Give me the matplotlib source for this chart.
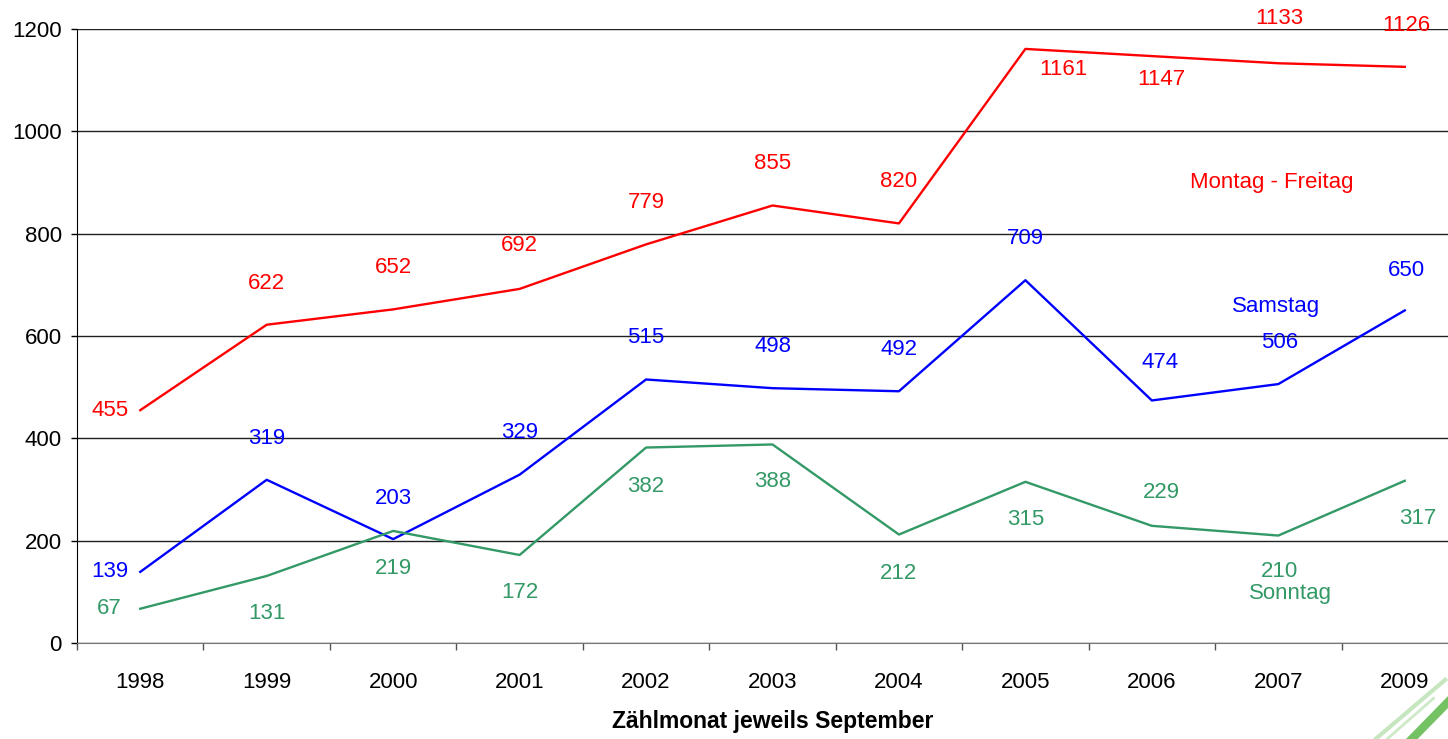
import matplotlib
matplotlib.use('Agg')
import matplotlib.pyplot as plt
import numpy as np

plt.rcParams['font.family'] = ['Liberation Sans', 'DejaVu Sans']

jahre = ['1998', '1999', '2000', '2001', '2002', '2003', '2004', '2005', '2006', '2007', '2009']
mo_fr = [455, 622, 652, 692, 779, 855, 820, 1161, 1147, 1133, 1126]
samstag = [139, 319, 203, 329, 515, 498, 492, 709, 474, 506, 650]
sonntag = [67, 131, 219, 172, 382, 388, 212, 315, 229, 210, 317]

rot = '#ff0000'
blau = '#0000ff'
gruen = '#339966'

# Beschriftungs-Versatz in Punkten (dx, dy)
off_rot = [(-22, 0), (0, 30), (0, 30), (0, 31), (0, 30), (0, 30), (0, 30), (27, -15), (7, -17), (1, 32), (1, 30)]
off_blau = [(-22, 0), (0, 30), (0, 29), (0, 30), (0, 30), (0, 30), (0, 30), (0, 30), (6, 27), (1, 30), (1, 29)]
off_gruen = [(-22, 0), (0, -27), (0, -27), (0, -27), (0, -28), (0, -27), (0, -28), (0, -27), (7, 24), (1, -26), (9, -27)]

fig = plt.figure(figsize=(14.48, 7.39), dpi=100)
ax = fig.add_axes([0.0532, 0.1299, 0.9606, 0.8309])

x = np.arange(len(jahre))
for werte, farbe, offs in [(mo_fr, rot, off_rot), (samstag, blau, off_blau), (sonntag, gruen, off_gruen)]:
    ax.plot(x, werte, color=farbe, lw=1.7, clip_on=False)
    for xi, v, (dx, dy) in zip(x, werte, offs):
        ax.annotate(str(v), (xi, v), xytext=(dx, dy), textcoords='offset points',
                    ha='center', va='center', color=farbe, fontsize=16, annotation_clip=False)

ax.set_xlim(-0.5, len(jahre) - 0.5)
ax.set_ylim(0, 1200)
ax.set_yticks(np.arange(0, 1201, 200))
ax.yaxis.grid(True, color='#202020', lw=1.0)
ax.set_axisbelow(True)

ax.set_xticks(np.arange(-0.5, len(jahre)), labels=[])
ax.set_xticks(x, labels=jahre, minor=True)
ax.tick_params(axis='x', which='major', length=5, width=1, color='#555555', direction='out')
ax.tick_params(axis='x', which='minor', length=0, pad=21, labelsize=16)
ax.tick_params(axis='y', length=4, width=1, pad=7, labelsize=16)

for s in ['top', 'right']:
    ax.spines[s].set_visible(False)
ax.spines['left'].set_color('black')
ax.spines['bottom'].set_color('#777777')

ax.set_xlabel('Zählmonat jeweils September', fontsize=16.5, fontweight='bold', labelpad=12)

ax.text(8.95, 900, 'Montag - Freitag', color=rot, fontsize=16, ha='center', va='center')
ax.text(8.98, 658, 'Samstag', color=blau, fontsize=16, ha='center', va='center')
ax.text(9.1, 97, 'Sonntag', color=gruen, fontsize=16, ha='center', va='center')

# Zierstriche unten rechts
for (x0, y0, x1, y1, w, a) in [(0.975, 0.0, 1.0, 0.05, 6, 0.85), (0.95, 0.0, 0.998, 0.08, 3, 0.35),
                               (0.958, 0.0, 0.99, 0.055, 2, 0.3)]:
    fig.add_artist(plt.Line2D([x0, x1], [y0, y1], color='#5cb848', lw=w, alpha=a))

fig.savefig('out.png', dpi=100)
